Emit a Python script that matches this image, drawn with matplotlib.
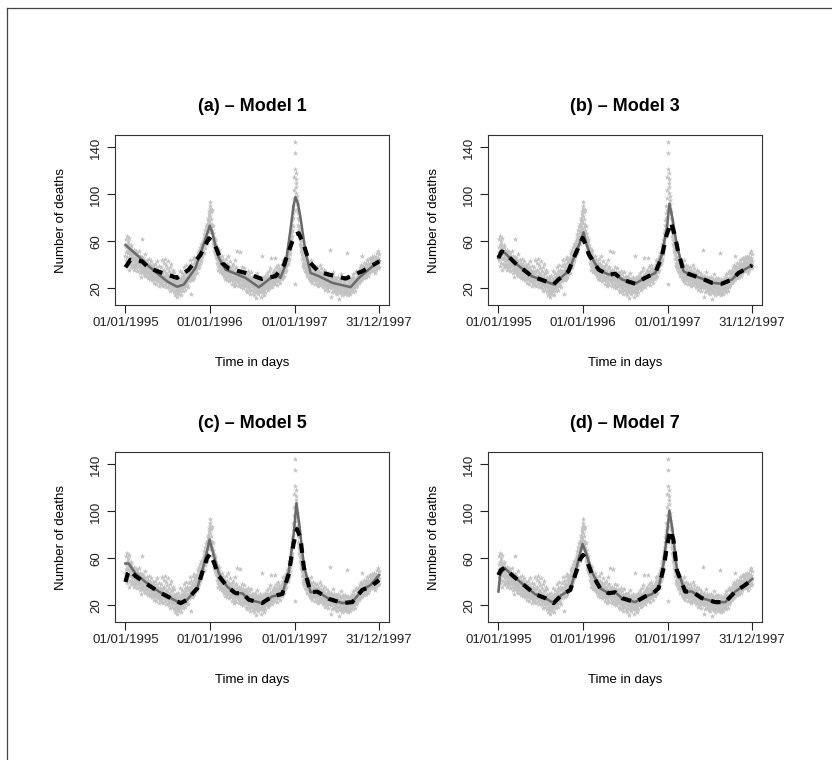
import numpy as np
import matplotlib
matplotlib.use("Agg")
from matplotlib import pyplot as plt
from matplotlib.lines import Line2D

plt.rcParams['font.family'] = ['Liberation Sans', 'DejaVu Sans']

# daily number of deaths, one row per month
deaths_1995 = [
    48, 55, 62, 44, 51, 65, 39, 57, 47, 53, 60, 42, 50, 58, 36, 54, 46, 63, 49, 41, 52, 45, 57, 38, 50, 47, 55, 43, 49, 40, 52,
    44, 50, 38, 47, 41, 53, 36, 45, 49, 40, 46, 43, 37, 46, 51, 39, 44, 48, 35, 42, 50, 41, 45, 38, 47, 43, 52, 40,
    40, 36, 45, 33, 42, 48, 38, 35, 44, 30, 41, 47, 37, 62, 39, 34, 43, 36, 46, 32, 40, 38, 35, 44, 31, 42, 37, 49, 34, 39, 36,
    35, 40, 31, 38, 44, 33, 29, 37, 42, 34, 30, 39, 36, 45, 32, 28, 37, 41, 33, 35, 30, 38, 43, 31, 36, 27, 34, 40, 32, 37,
    33, 28, 37, 30, 25, 35, 41, 29, 32, 36, 27, 31, 38, 24, 33, 30, 43, 28, 34, 26, 31, 36, 29, 22, 33, 39, 27, 30, 35, 25, 32,
    29, 34, 25, 31, 38, 27, 23, 33, 44, 30, 26, 35, 22, 29, 42, 31, 27, 36, 24, 30, 45, 28, 33, 21, 26, 40, 29, 32, 25, 37,
    26, 31, 22, 43, 28, 24, 35, 20, 27, 30, 38, 23, 26, 18, 32, 25, 29, 41, 21, 27, 24, 33, 19, 28, 36, 22, 25, 30, 17, 26, 34,
    23, 18, 27, 21, 14, 25, 30, 19, 22, 16, 28, 24, 13, 20, 26, 17, 31, 22, 15, 24, 19, 27, 21, 35, 18, 23, 14, 26, 20, 29, 22,
    24, 29, 20, 33, 26, 18, 31, 23, 38, 27, 21, 30, 25, 35, 19, 28, 32, 24, 40, 26, 22, 30, 27, 36, 23, 29, 33, 21, 28, 34,
    30, 35, 26, 39, 31, 28, 44, 33, 15, 36, 29, 41, 32, 27, 38, 34, 30, 45, 31, 37, 28, 42, 35, 33, 47, 30, 39, 36, 32, 43, 37,
    36, 42, 39, 46, 33, 44, 40, 49, 37, 45, 42, 51, 38, 47, 44, 53, 41, 49, 46, 55, 43, 52, 48, 58, 45, 54, 50, 57, 48, 60,
    52, 58, 55, 63, 50, 61, 57, 66, 59, 54, 64, 70, 60, 67, 62, 73, 58, 69, 75, 65, 72, 78, 68, 80, 74, 86, 71, 83, 77, 88, 94,
]
deaths_1996 = [
    82, 90, 76, 85, 72, 79, 68, 87, 74, 63, 70, 66, 58, 73, 61, 67, 55, 64, 59, 52, 62, 56, 49, 60, 53, 47, 57, 50, 45, 54, 48,
    47, 42, 51, 39, 45, 36, 49, 43, 40, 53, 37, 44, 41, 34, 47, 39, 42, 36, 45, 33, 40, 48, 35, 41, 38, 44, 32, 39, 36,
    35, 40, 31, 38, 28, 42, 34, 30, 37, 45, 32, 29, 36, 41, 27, 34, 38, 31, 48, 33, 26, 36, 30, 39, 35, 28, 43, 32, 37, 29, 34,
    31, 27, 36, 24, 33, 39, 29, 35, 26, 30, 41, 28, 34, 22, 32, 37, 25, 31, 44, 27, 33, 29, 38, 23, 30, 35, 28, 52, 26, 32,
    29, 34, 25, 31, 22, 36, 28, 33, 27, 51, 24, 30, 35, 21, 29, 32, 26, 38, 23, 30, 27, 34, 20, 28, 31, 25, 37, 22, 29, 33, 26,
    27, 22, 31, 19, 26, 33, 24, 29, 17, 25, 35, 21, 28, 23, 30, 18, 26, 32, 20, 27, 24, 15, 29, 22, 34, 25, 19, 28, 23, 30,
    24, 19, 28, 16, 23, 30, 21, 26, 14, 22, 27, 18, 25, 31, 20, 12, 24, 29, 17, 22, 26, 19, 33, 21, 15, 25, 20, 28, 18, 23, 27,
    21, 26, 17, 24, 30, 19, 23, 13, 27, 22, 48, 18, 25, 20, 29, 16, 24, 21, 28, 14, 23, 26, 19, 31, 22, 17, 25, 20, 27, 23, 29,
    25, 30, 21, 27, 33, 19, 26, 29, 23, 35, 24, 28, 20, 31, 26, 37, 22, 27, 30, 24, 46, 25, 29, 21, 32, 27, 24, 34, 26, 30,
    28, 33, 25, 30, 36, 27, 31, 24, 46, 29, 34, 26, 38, 30, 27, 32, 23, 35, 29, 31, 40, 26, 33, 28, 37, 30, 25, 34, 31, 29, 36,
    31, 36, 29, 34, 39, 28, 35, 32, 41, 30, 37, 33, 44, 35, 31, 39, 36, 42, 34, 45, 38, 40, 47, 36, 43, 39, 48, 41, 45, 50,
    43, 48, 41, 52, 46, 55, 50, 44, 58, 53, 61, 56, 49, 64, 59, 67, 62, 70, 65, 74, 69, 78, 73, 84, 80, 90, 87, 97, 104, 115, 145,
]
deaths_1997 = [
    135, 122, 24, 118, 110, 113, 101, 106, 95, 99, 88, 92, 84, 80, 86, 74, 78, 69, 72, 65, 70, 61, 66, 58, 63, 55, 60, 52, 57, 49, 54,
    50, 45, 53, 42, 48, 39, 46, 41, 51, 37, 44, 40, 35, 47, 38, 42, 34, 45, 36, 40, 33, 43, 37, 31, 39, 35, 41, 33,
    33, 38, 29, 35, 42, 27, 32, 36, 30, 44, 26, 34, 31, 39, 28, 33, 37, 25, 31, 35, 29, 40, 27, 32, 30, 36, 24, 33, 38, 28, 31,
    30, 35, 26, 32, 28, 38, 24, 31, 29, 34, 22, 30, 36, 27, 33, 25, 29, 40, 27, 31, 23, 28, 34, 26, 30, 37, 25, 29, 32, 27,
    28, 24, 33, 21, 27, 30, 25, 36, 22, 28, 19, 31, 26, 29, 23, 34, 27, 20, 30, 25, 28, 22, 32, 18, 26, 29, 24, 31, 21, 27, 25,
    26, 53, 22, 28, 13, 25, 31, 20, 27, 23, 29, 17, 24, 34, 21, 26, 19, 28, 22, 25, 30, 18, 23, 27, 20, 26, 16, 24, 29, 21,
    23, 19, 27, 15, 22, 30, 20, 25, 18, 24, 11, 21, 28, 17, 23, 26, 19, 22, 32, 16, 24, 20, 27, 14, 22, 25, 18, 29, 21, 23, 17,
    22, 18, 26, 20, 15, 24, 29, 19, 23, 17, 27, 21, 16, 50, 23, 19, 25, 14, 22, 28, 20, 17, 24, 21, 26, 18, 23, 15, 27, 20, 24,
    23, 27, 19, 25, 30, 21, 26, 17, 28, 24, 32, 20, 26, 23, 29, 18, 27, 25, 33, 22, 28, 24, 35, 21, 27, 30, 23, 29, 26, 34,
    28, 33, 25, 30, 36, 27, 32, 38, 26, 31, 35, 29, 40, 30, 27, 34, 48, 31, 37, 28, 33, 39, 30, 35, 29, 42, 32, 36, 30, 38, 34,
    33, 38, 30, 36, 41, 32, 37, 44, 34, 39, 31, 36, 42, 35, 40, 33, 45, 37, 34, 41, 38, 46, 35, 40, 43, 36, 39, 47, 37, 42,
    38, 43, 35, 41, 46, 37, 42, 39, 48, 36, 44, 40, 33, 45, 41, 38, 47, 42, 36, 44, 50, 39, 43, 37, 46, 52, 41, 45, 38, 49, 43,
]
deaths = np.array(deaths_1995 + deaths_1996 + deaths_1997)
days = np.arange(len(deaths))

tick_days = [0, 365, 731, 1095]
tick_labels = ['01/01/1995', '01/01/1996', '01/01/1997', '31/12/1997']

# fitted curves: gray = one fit, dashed black = the other
m1_days = [0, 58, 100, 144, 180, 223, 252, 302, 331, 345, 364, 374, 389, 403, 432, 518, 576, 619, 648, 669, 691, 713, 725, 734, 745, 756, 777, 799, 835, 892, 972, 1008, 1095]
m1_vals = [57, 47, 39, 31.8, 26, 21.4, 23.4, 37.4, 54, 62, 73.4, 68, 56, 46, 36, 29, 21, 27.6, 32.4, 29, 40, 71, 90, 97.8, 92, 79.6, 51.5, 33.2, 30.4, 24.8, 21.1, 29, 43.6]
d1_days = [0, 22, 72, 101, 158, 223, 273, 324, 345, 360, 370, 389, 417, 446, 518, 590, 648, 684, 720, 735, 748, 770, 792, 835, 878, 950, 1022, 1095]
d1_vals = [38, 44.4, 43, 37.4, 33.2, 29, 36, 48.7, 57, 62.7, 61, 55.7, 41.6, 36.9, 33.2, 28, 30.4, 40, 60, 66, 67, 57, 43, 34, 31.8, 28.4, 34.6, 43]

m3_days = [0, 14, 29, 72, 144, 202, 238, 259, 302, 331, 350, 367, 381, 396, 432, 475, 504, 533, 590, 633, 677, 705, 727, 738, 751, 770, 799, 820, 878, 921, 964, 1008, 1036, 1095]
m3_vals = [45.9, 51.5, 50, 41.6, 30.4, 26.2, 23.4, 27.6, 34.6, 48.7, 58, 67.8, 57, 48.7, 36, 31.8, 32.4, 27.6, 24, 29, 33.2, 48.7, 71, 92.2, 79.6, 57, 34.6, 32.4, 28.4, 24.8, 24, 27.6, 33.2, 39.7]
d3_days = [0, 14, 29, 72, 144, 202, 238, 259, 302, 331, 350, 363, 375, 390, 432, 475, 504, 533, 590, 633, 677, 705, 725, 745, 760, 775, 799, 820, 878, 921, 964, 1008, 1036, 1095]
d3_vals = [45.9, 51.5, 50, 41.6, 30.4, 26.2, 23.4, 27.6, 34.6, 48.7, 57, 63, 58, 49, 36, 31.8, 32.4, 27.6, 24, 29, 33.2, 47, 65, 76, 66, 52, 34.6, 32.4, 28.4, 24.8, 24, 27.6, 33.2, 39.7]

m5_days = [0, 14, 43, 86, 144, 209, 238, 266, 310, 338, 352, 363, 381, 403, 439, 475, 504, 533, 590, 633, 677, 705, 727, 738, 751, 770, 799, 828, 878, 936, 979, 1022, 1058, 1095]
m5_vals = [55.7, 55.7, 47.3, 40, 31.8, 24.8, 22, 24.8, 34.6, 54.3, 66, 76.2, 62.7, 47.3, 36, 30.4, 30.4, 24.8, 22, 27.6, 29.8, 48.7, 82.4, 107, 88, 54.3, 31.2, 31.8, 25.6, 22, 22.8, 33.2, 37.4, 45.9]
d5_days = [0, 10, 20, 43, 86, 144, 209, 238, 266, 310, 338, 352, 365, 381, 403, 439, 475, 504, 533, 590, 633, 677, 705, 725, 740, 755, 770, 799, 828, 878, 936, 979, 1022, 1058, 1095]
d5_vals = [40, 47, 50, 45, 39, 31.5, 24.8, 22, 24.8, 34.6, 52, 60, 64, 57, 45, 36, 30.4, 30.4, 24.8, 22, 27.6, 29.8, 47, 72, 85, 78, 52, 31.2, 31.8, 25.6, 22, 22.8, 33.2, 36, 41.6]

m7_days = [0, 7, 26, 58, 101, 158, 202, 238, 273, 310, 338, 352, 363, 381, 403, 439, 475, 504, 533, 590, 633, 662, 691, 713, 727, 738, 751, 770, 806, 835, 878, 936, 979, 1022, 1065, 1095]
m7_vals = [31.8, 45.9, 52, 45.9, 38.8, 29.6, 26.2, 22, 29, 33.2, 52.9, 64, 72.5, 62.7, 48.7, 34.6, 30.4, 31.2, 26.2, 22.8, 27.6, 29.6, 34.6, 55.7, 80, 100.6, 85, 51.5, 31.8, 31.8, 26.2, 22.8, 22.8, 31.8, 37.4, 42.5]
d7_days = [0, 10, 26, 58, 101, 158, 202, 238, 273, 310, 338, 352, 365, 381, 403, 439, 475, 504, 533, 590, 633, 662, 691, 713, 727, 742, 755, 770, 806, 835, 878, 936, 979, 1022, 1065, 1095]
d7_vals = [45.9, 50, 52, 45.9, 38.8, 29.6, 26.2, 22, 29, 33.2, 50, 59, 63, 58, 47, 34.6, 30.4, 31.2, 26.2, 22.8, 27.6, 29.6, 34.6, 52, 70, 84, 76, 50, 31.8, 31.8, 26.2, 22.8, 22.8, 31.8, 37.4, 42.5]

titles = ['(a) \u2013 Model 1', '(b) \u2013 Model 3', '(c) \u2013 Model 5', '(d) \u2013 Model 7']
fits = [(m1_days, m1_vals, d1_days, d1_vals),
        (m3_days, m3_vals, d3_days, d3_vals),
        (m5_days, m5_vals, d5_days, d5_vals),
        (m7_days, m7_vals, d7_days, d7_vals)]

W, H = 832, 760
fig = plt.figure(figsize=(W / 100, H / 100), dpi=100)

# panel boxes in pixels: left, top
boxes = [(115.3, 135.3), (488.3, 135.3), (115.3, 452.3), (488.3, 452.3)]
bw, bh = 274, 170

xr = days.max() - days.min()
xlim = (days.min() - 0.04 * xr, days.max() + 0.04 * xr)
yr = deaths.max() - deaths.min()
ylim = (deaths.min() - 0.04 * yr, deaths.max() + 0.04 * yr)

for (left, top), title, (gd, gv, dd, dv) in zip(boxes, titles, fits):
    ax = fig.add_axes([left / W, 1 - (top + bh) / H, bw / W, bh / H])
    ax.scatter(days, deaths, marker='*', s=18, color='#c2c2c2', linewidths=0, zorder=1)
    ax.plot(gd, gv, color='#6a6a6a', lw=1.8, solid_joinstyle='round', zorder=2)
    ax.plot(dd, dv, color='black', lw=3, dashes=(2.3, 1.9), dash_capstyle='butt', zorder=3)
    ax.set_xlim(xlim)
    ax.set_ylim(ylim)
    ax.set_xticks(tick_days)
    ax.set_xticklabels(tick_labels)
    ax.set_yticks([20, 60, 100, 140])
    ax.set_yticklabels(['20', '60', '100', '140'], rotation=90, va='center')
    ax.tick_params(direction='out', length=5.5, width=0.8, labelsize=9.5, colors='#222222')
    ax.tick_params(axis='x', pad=3)
    ax.tick_params(axis='y', pad=4)
    for s in ax.spines.values():
        s.set_linewidth(0.8)
        s.set_color('#333333')
    ax.text(0.5, 1 + 29 / bh, title, transform=ax.transAxes, ha='center', va='center',
            fontsize=13, fontweight='bold')
    ax.text(0.5, -58 / bh, 'Time in days', transform=ax.transAxes, ha='center', va='center',
            fontsize=9.5)
    ax.text(-54 / bw, 0.5, 'Number of deaths', transform=ax.transAxes, ha='center', va='center',
            rotation=90, fontsize=9.5)

# partial frame at the top and left edges
fig.add_artist(Line2D([7 / W, 7 / W], [0, 1 - 8 / H], transform=fig.transFigure, color='#444444', lw=0.9))
fig.add_artist(Line2D([7 / W, 1], [1 - 8 / H, 1 - 8 / H], transform=fig.transFigure, color='#444444', lw=0.9))

fig.savefig('out.png', dpi=100)
